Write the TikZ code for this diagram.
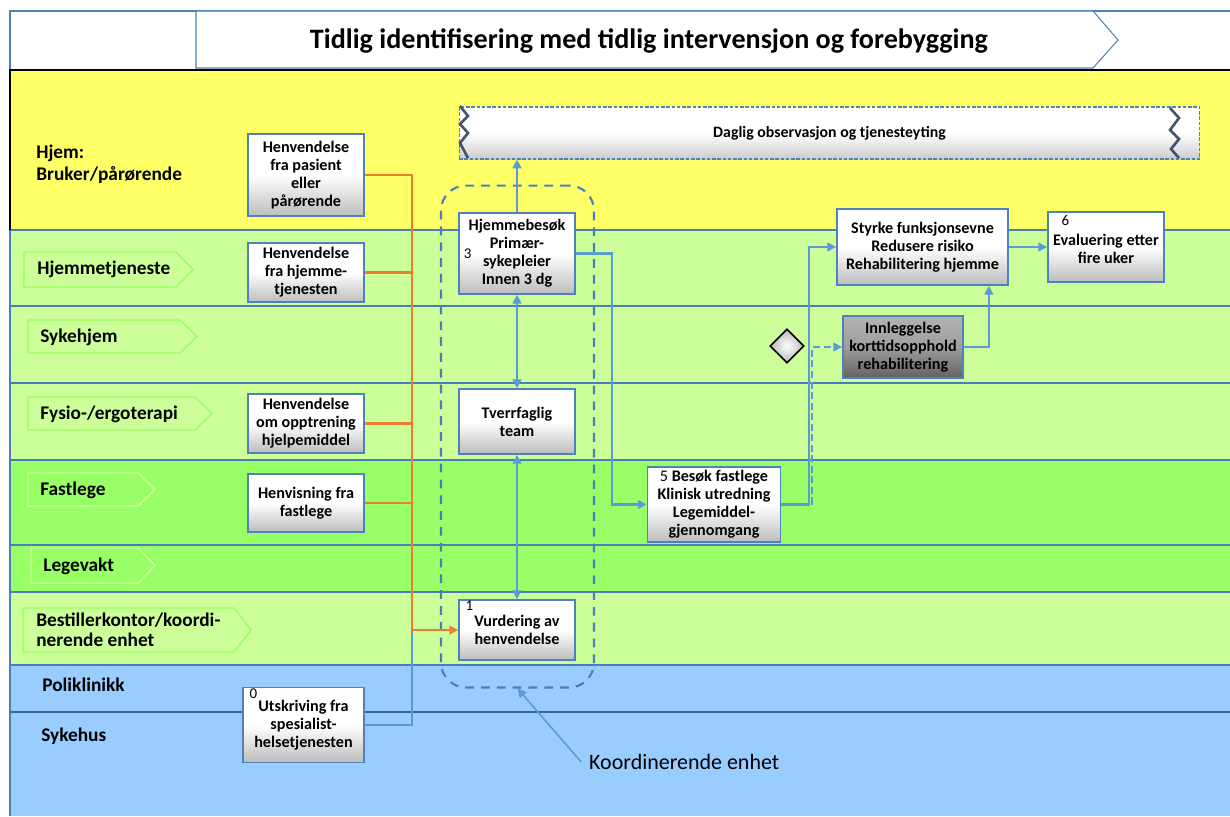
\documentclass[tikz,border=0pt]{standalone}
\usepackage{fontspec}
\setmainfont{Carlito}
\usetikzlibrary{arrows.meta,shapes.geometric}

\definecolor{gul}{HTML}{FFFF66}
\definecolor{lysgronn}{HTML}{CCFF99}
\definecolor{gronn}{HTML}{99FF66}
\definecolor{lysbla}{HTML}{99CCFF}
\definecolor{skille}{HTML}{4A7EBB}
\definecolor{kant}{HTML}{4F81BD}
\definecolor{pil}{HTML}{5B9BD5}
\definecolor{oransje}{HTML}{ED7D31}
\definecolor{sikk}{HTML}{44546A}

\begin{document}
\begin{tikzpicture}[x=0.02cm,y=-0.02cm,
        box/.style={draw=kant,line width=1pt,top color=white,bottom color=black!26,middle color=white,
                    font=\fontsize{9.2}{10.3}\selectfont\bfseries,align=center,inner sep=1pt,minimum width=2.32cm},
        grabox/.style={box,top color=black!30,bottom color=black!62,middle color=black!38},
        num/.style={font=\fontsize{8.5}{9}\selectfont,inner sep=1pt},
        lane/.style={font=\fontsize{11}{12.5}\selectfont\bfseries,align=left,anchor=west,inner sep=0pt},
        sep/.style={draw=skille,line width=1.2pt},
        flow/.style={draw=pil,line width=1.2pt,-{Triangle[length=5pt,width=5pt]}},
        org/.style={draw=oransje,line width=1.3pt}]

    \useasboundingbox (0,0) rectangle (1230,816);
    \fill[white] (0,0) rectangle (1230,816);

    % baner
    \fill[gul] (10,70) rectangle (1230,230);
    \fill[lysgronn] (10,230) rectangle (1230,460);
    \fill[gronn] (10,460) rectangle (1230,592);
    \fill[lysgronn] (10,592) rectangle (1230,665);
    \fill[lysbla] (10,665) rectangle (1230,816);
    \foreach \y in {230,306,383,460,545,592,665}
        \draw[sep] (10,\y) -- (1230,\y);
    \draw[sep,draw=skille!80!black,line width=1.6pt] (10,712) -- (1230,712);
    \draw[sep] (10,230) -- (10,816);
    \draw[black,line width=1.6pt] (10,230) -- (10,70) -- (1230,70);

    % topp
    \draw[kant,line width=0.6pt] (10,69) -- (10,11) -- (1230,11);
    \draw[kant,line width=0.6pt,fill=white] (196,68) -- (196,11) -- (1093,11) -- (1118,40) -- (1093,68) -- cycle;
    \node[font=\fontsize{16}{18}\selectfont\bfseries] (tittel) at (649,41)
        {Tidlig identifisering med tidlig intervensjon og forebygging};

    % etiketter
    \foreach \xa/\ya/\xb/\yb/\c in {24/252/193/287/gronn,28/320/197/353/gronn,28/397/212/430/gronn,
            28/473/155/506/lysgronn,31/548/155/583/lysgronn,23/608/251/652/gronn}
        \draw[\c,line width=0.8pt] (\xa,\ya) -- ({\xb-17},\ya) -- (\xb,{(\ya+\yb)/2}) -- ({\xb-17},\yb) -- (\xa,\yb) -- cycle;
    \node[lane] (l-hjem) at (36,164) {Hjem:\\Bruker/pårørende};
    \node[lane] (l-hjt) at (37,269) {Hjemmetjeneste};
    \node[lane] (l-syk) at (40,337) {Sykehjem};
    \node[lane] (l-fys) at (40,414) {Fysio-/ergoterapi};
    \node[lane] (l-fl) at (40,490) {Fastlege};
    \node[lane] (l-lv) at (43,566) {Legevakt};
    \node[lane,font=\fontsize{11}{11.4}\selectfont\bfseries] (l-best) at (36,630) {Bestillerkontor/koordi-\\nerende enhet};
    \node[lane] (l-pol) at (42,685) {Poliklinikk};
    \node[lane] (l-sh) at (41,736) {Sykehus};

    % daglig
    \node[draw=kant,line width=0.6pt,dash pattern=on 2pt off 1pt,top color=white,bottom color=black!20,middle color=white,
          minimum width=14.82cm,minimum height=1.04cm,font=\fontsize{9}{10}\selectfont\bfseries] (obs) at (829.5,133)
          {Daglig observasjon og tjenesteyting};
    \draw[sikk,line width=1.5pt] (460,106) -- (468,116) -- (460,124) -- (468,133) -- (460,143) -- (468,158);
    \draw[sikk,line width=1.5pt] (1170,108) -- (1179,118) -- (1170,130) -- (1179,139) -- (1171,149) -- (1179,158);

    \node[draw=skille,line width=1.2pt,dash pattern=on 5pt off 4pt,rounded corners=0.5cm,
          minimum width=3.06cm,minimum height=10.04cm] (koord) at (517.5,436.5) {};

    % bokser
    \node[box,minimum height=1.64cm] (pas) at (306,175) {Henvendelse\\fra pasient\\eller\\pårørende};
    \node[box,minimum height=1.18cm] (hjt) at (306,272.5) {Henvendelse\\fra hjemme-\\tjenesten};
    \node[box,minimum height=1.18cm] (fys) at (306,423.5) {Henvendelse\\om opptrening\\hjelpemiddel};
    \node[box,minimum height=1.16cm] (fl) at (306,503) {Henvisning fra\\fastlege};
    \node[box,minimum width=2.42cm,minimum height=1.5cm] (uts) at (303.5,725) {Utskriving fra\\spesialist-\\helsetjenesten};
    \node[box,minimum height=1.2cm] (vur) at (517,630) {Vurdering av\\henvendelse};
    \node[box,minimum height=1.3cm] (tvf) at (517,421.5) {Tverrfaglig\\team};
    \node[box,minimum height=1.62cm] (hjb) at (517,253.5) {Hjemmebesøk\\Primær-\\sykepleier\\Innen 3 dg};
    \node[box,minimum width=2.66cm,minimum height=1.5cm] (bes) at (714,504.5)
        {{\mdseries 5} Besøk fastlege\\Klinisk utredning\\Legemiddel-\\gjennomgang};
    \node[box,minimum width=3.42cm,minimum height=1.52cm] (sty) at (922.5,247)
        {Styrke funksjonsevne\\Redusere risiko\\Rehabilitering hjemme};
    \node[box,minimum height=1.4cm] (eva) at (1106,247) {\\[-2pt]Evaluering etter\\fire uker};
    \node[grabox,minimum width=2.4cm,minimum height=1.24cm] (inn) at (903,347)
        {Innleggelse\\korttidsopphold\\rehabilitering};
    \node[diamond,draw=black,line width=0.9pt,inner color=white,outer color=black!28,
          minimum width=0.68cm,minimum height=0.68cm,inner sep=0pt] (valg) at (787,346) {};

    \node[num,anchor=north west,xshift=3pt] (n0) at (uts.north west) {0};
    \node[num,anchor=north west,xshift=3pt] (n1) at (vur.north west) {1};
    \node[num,anchor=west,xshift=2pt] (n3) at (hjb.west) {3};
    \node[num,anchor=north west,xshift=7pt,yshift=-1pt] (n6) at (eva.north west) {6};

    % piler
    \coordinate (jn) at (412,630);
    \draw[draw=pil,line width=1.2pt] (uts.east) -| (jn);
    \draw[org,-{Triangle[length=5pt,width=5pt]}] (pas.east) -| (jn) -- (vur.west);
    \foreach \b in {hjt,fys,fl}
        \draw[org] (\b.east) -- (\b.east -| jn);

    \draw[flow] (hjb.north) -- (hjb.north |- obs.south);
    \draw[flow,{Triangle[length=5pt,width=5pt]}-{Triangle[length=5pt,width=5pt]}] (tvf.north) -- (hjb.south);
    \draw[flow,{Triangle[length=5pt,width=5pt]}-{Triangle[length=5pt,width=5pt]}] (vur.north) -- (tvf.south);
    \draw[flow] (hjb.east) -- ++(36,0) |- (bes.west);
    \draw[flow] (bes.east) -- ++(28,0) |- (sty.west);
    \draw[flow,dash pattern=on 4pt off 2pt] ([xshift=0.62cm]bes.east) |- (inn.west);
    \draw[flow] (inn.east) -| ([xshift=-0.4cm]sty.south east);
    \draw[flow] (sty.east) -- (eva.west);

    \node[font=\fontsize{12.5}{14}\selectfont,anchor=west] (ktxt) at (583,762) {Koordinerende enhet};
    \draw[flow,line width=0.9pt] ([xshift=-1pt]ktxt.west) -- (koord.south);
\end{tikzpicture}
\end{document}
